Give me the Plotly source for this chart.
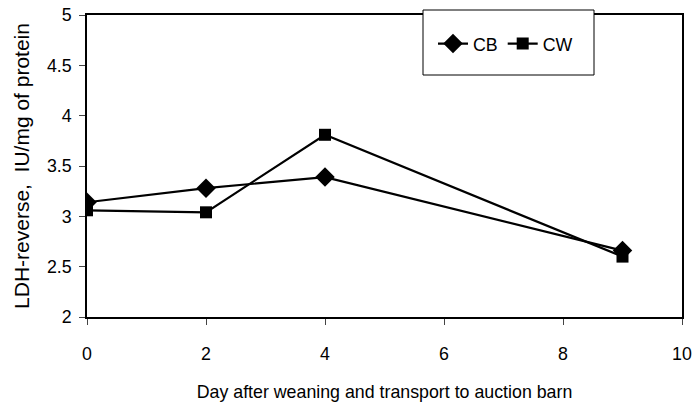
import plotly.graph_objects as go

days = [0, 2, 4, 9]
cb = [3.14, 3.28, 3.39, 2.66]
cw = [3.06, 3.04, 3.81, 2.60]
x_ticks = [0, 2, 4, 6, 8, 10]
y_ticks = [2, 2.5, 3, 3.5, 4, 4.5, 5]

fig = go.Figure()
fig.add_trace(go.Scatter(x=days, y=cb, name="CB", mode="lines+markers",
                         line=dict(color="black", width=2.2),
                         marker=dict(symbol="diamond", size=15, color="black")))
fig.add_trace(go.Scatter(x=days, y=cw, name="CW", mode="lines+markers",
                         line=dict(color="black", width=2.2),
                         marker=dict(symbol="square", size=12, color="black")))

L, R, T, B = 87, 12, 15, 95
W, H = 694, 412
pw = W - L - R
ph = H - T - B

def px_to_paper_x(px):
    return (px - L) / pw

def px_to_paper_y(py):
    return (H - B - py) / ph

fig.add_shape(type="rect", xref="paper", yref="paper",
              x0=px_to_paper_x(423), x1=px_to_paper_x(594),
              y0=px_to_paper_y(75), y1=px_to_paper_y(10),
              line=dict(color="black", width=1), fillcolor="white", layer="above")

FS = 17.8
fig.update_layout(
    width=W, height=H,
    margin=dict(l=L, r=R, t=T, b=B, autoexpand=False),
    plot_bgcolor="white", paper_bgcolor="white",
    font=dict(family="Liberation Sans, Arial", size=FS, color="black"),
    showlegend=True,
    legend=dict(orientation="h", x=px_to_paper_x(433), y=px_to_paper_y(44),
                xanchor="left", yanchor="middle", bgcolor="rgba(0,0,0,0)",
                font=dict(size=FS), itemwidth=30, tracegroupgap=0),
    xaxis=dict(range=[0, 10], tickvals=x_ticks, ticks="outside", ticklen=6,
               showline=True, linecolor="black", linewidth=1.5, mirror=True,
               showgrid=False, zeroline=False, ticklabelstandoff=14,
               automargin=False,
               title=dict(text="Day after weaning and transport to auction barn",
                          font=dict(size=FS), standoff=22)),
    yaxis=dict(range=[2, 5], tickvals=y_ticks, ticks="outside", ticklen=6,
               showline=True, linecolor="black", linewidth=1.5, mirror=True,
               showgrid=False, zeroline=False, ticklabelstandoff=4,
               automargin=False,
               title=dict(text="LDH-reverse,&nbsp;&nbsp;IU/mg of protein",
                          font=dict(size=21), standoff=12)),
)
fig.write_html("out.html", config={"displayModeBar": False},
               post_script="document.body.style.margin='0';document.body.style.padding='0';")
